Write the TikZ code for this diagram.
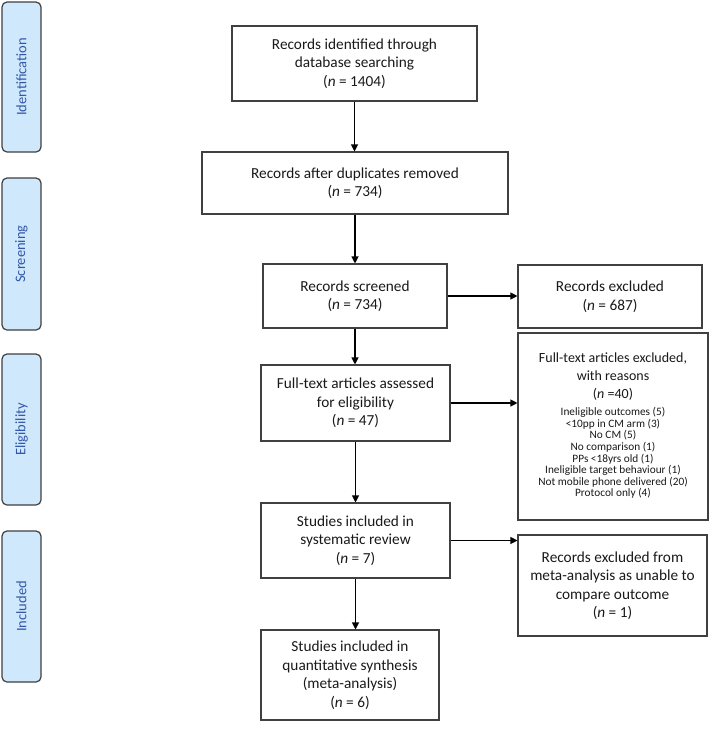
\documentclass[tikz,border=0pt]{standalone}
\usepackage{fontspec}
\usepackage{array}
\setmainfont{Carlito}
\usetikzlibrary{arrows.meta, positioning}

\definecolor{stagefill}{HTML}{CFE8FC}
\definecolor{stagetext}{HTML}{3358A8}
\definecolor{boxline}{HTML}{404040}
\newcommand{\lessthan}{\symbol{60}}
\newcommand{\reasonfont}{\fontsize{11.3}{10.8}\selectfont}

\begin{document}
\begin{tikzpicture}[
		x=1pt, y=-1pt,
		every node/.style={font=\fontsize{15.3}{18.5}\selectfont},
		stage/.style={draw=boxline, line width=1.2pt, rounded corners=5pt, fill=stagefill, text=stagetext, rotate=90, minimum height=39pt, inner sep=0pt, font=\fontsize{14.5}{16}\selectfont},
		box/.style={draw=boxline, line width=1.1pt, align=center, inner sep=0pt, text=black!90},
		flow/.style={-{Triangle[length=7pt,width=7pt]}, line width=1.1pt, black}
		]
		\useasboundingbox (0,0) rectangle (709,732);
		
		% Stage labels on the left
		\node[stage, minimum width=150pt] (ident) at (21.5,77) {Identification};
		\node[stage, minimum width=152pt] (screen) at (21.5,254) {Screening};
		\node[stage, minimum width=151pt] (elig) at (21.5,429.5) {Eligibility};
		\node[stage, minimum width=151pt] (incl) at (21.5,606.5) {Included};
		
		% Main flow
		\node[box, minimum width=245pt, minimum height=75pt] (rec) at (354.5,63.5) {Records identified through\\database searching\\(\textit{n} = 1404)};
		\node[box, minimum width=306pt, minimum height=62pt] (dup) at (355,183) {Records after duplicates removed\\(\textit{n} = 734)};
		\node[box, minimum width=184pt, minimum height=64pt] (scr) at (355,296) {Records screened\\(\textit{n} = 734)};
		\node[box, minimum width=189pt, minimum height=76pt] (ft) at (355.5,403) {Full-text articles assessed\\for eligibility\\(\textit{n} = 47)};
		\node[box, minimum width=189pt, minimum height=75pt] (sys) at (355.5,540.5) {Studies included in\\systematic review\\(\textit{n} = 7)};
		\node[box, minimum width=178pt, minimum height=90pt] (quant) at (350,675) {Studies included in\\quantitative synthesis\\(meta-analysis)\\(\textit{n} = 6)};
		
		% Exclusions
		\node[box, minimum width=184pt, minimum height=63pt] (ex1) at (610,296.5) {Records excluded\\(\textit{n} = 687)};
		\node[box, minimum width=190pt, minimum height=187pt, font=\fontsize{14}{18}\selectfont] (ex2) at (613,426.5) {Full-text articles excluded,\\with reasons\\(\textit{n} =40)\\[-1pt]
			{\reasonfont\begin{tabular}[t]{@{}>{\reasonfont}c@{}}
				Ineligible outcomes (5)\\\lessthan10pp in CM arm (3)\\No CM (5)\\No comparison (1)\\PPs \lessthan18yrs old (1)\\
				Ineligible target behaviour (1)\\Not mobile phone delivered (20)\\Protocol only (4)
			\end{tabular}}};
		\node[box, minimum width=189pt, minimum height=101pt] (ex3) at (612.5,585.5) {Records excluded from\\meta-analysis as unable to\\compare outcome\\(\textit{n} = 1)};
		
		% Arrows
		\draw[flow] (rec) -- (rec |- dup.north);
		\draw[flow] (dup) -- (dup |- scr.north);
		\draw[flow] (scr) -- (scr |- ft.north);
		\draw[flow] (ft) -- (ft |- sys.north);
		\draw[flow] (sys) -- (sys.south |- quant.north);
		\draw[flow] (scr) -- (scr -| ex1.west);
		\draw[flow] (ft) -- (ft -| ex2.west);
		\draw[flow] (sys) -- (sys -| ex3.west);
	\end{tikzpicture}
\end{document}
